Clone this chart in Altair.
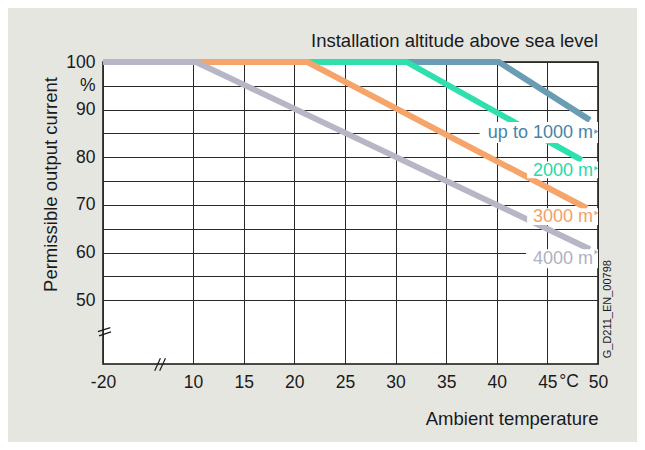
import altair as alt
import pandas as pd

# ---- data ----
series = ["up to 1000 m", "2000 m", "3000 m", "4000 m"]
line_colors = ["#6a9cb4", "#2ee0ad", "#f5a46a", "#b6b6c6"]
text_colors = ["#4784a6", "#2ad8a8", "#f2a066", "#b0b0c0"]

temps = {
    "up to 1000 m": [-20, 40.2, 49.2],
    "2000 m": [-20, 31.1, 48.4],
    "3000 m": [-20, 21.3, 48.9],
    "4000 m": [-20, 10.3, 49.2],
}
currents = {
    "up to 1000 m": [100, 100, 87.8],
    "2000 m": [100, 100, 79.4],
    "3000 m": [100, 100, 69.3],
    "4000 m": [100, 100, 60.7],
}

# label positions (temperature, current) and white label boxes
label_x = [49.5, 49.5, 49.5, 49.5]
label_y = [85.0, 77.2, 67.4, 58.6]
box_x = [38.3, 43.0, 43.0, 42.9]
box_x2 = [50, 50, 50, 50]
box_y = [87.4, 79.1, 69.3, 60.7]
box_y2 = [83.0, 75.6, 65.8, 56.7]
arrow_x = [49.85, 49.85, 49.85, 49.85]
arrow_y = [85.4, 77.7, 68.3, 60.1]

x_tick_values = [-20, 10, 15, 20, 25, 30, 35, 40, 45, 50]
y_tick_values = [50, 55, 60, 65, 70, 75, 80, 85, 90, 95, 100]

# axis-break marks (scale position units), each a short segment
brk_x = [0.61, 0.715, 6.22, 6.71]
brk_x2 = [1.83, 1.90, 6.78, 7.28]
brk_y = [43.4, 42.5, 35.2, 35.2]
brk_y2 = [44.25, 43.34, 37.8, 37.8]

# broken axis: -20..10 compressed
X_BREAK_POS = 1.11


def pos(t):
    return t if t >= 10 else X_BREAK_POS + (t + 20) * (10 - X_BREAK_POS) / 30


FONT = "Liberation Sans"
INK = "#1a1a1a"
x_scale = alt.Scale(domain=[X_BREAK_POS, 50], nice=False, zero=False)
y_scale = alt.Scale(domain=[36.6, 100], nice=False, zero=False)

rows = []
for s in series:
    for t, v in zip(temps[s], currents[s]):
        rows.append({"series": s, "x": pos(t), "y": v})
lines_df = pd.DataFrame(rows)

lab_df = pd.DataFrame({
    "series": series, "lx": label_x, "ly": label_y,
    "bx": box_x, "bx2": box_x2, "by": box_y, "by2": box_y2,
    "ax": arrow_x, "ay": arrow_y, "tc": text_colors, "lc": line_colors,
})

x_axis = alt.Axis(
    values=[pos(t) for t in x_tick_values],
    labelExpr="datum.value < 5 ? '-20' : format(datum.value, 'd')",
    grid=True, gridColor="#2a2a2a", gridWidth=1, ticks=False, domain=False,
    labelFont=FONT, labelFontSize=17.5, labelColor=INK, labelPadding=9,
    labelFlush=False, labelOverlap=False,
    title="Ambient temperature", titleFont=FONT, titleFontSize=18.5,
    titleFontWeight="normal", titleColor=INK, titleAnchor="end",
    titlePadding=19,
)
y_axis = alt.Axis(
    values=y_tick_values,
    labelExpr="datum.value == 95 ? '%' : (datum.value % 10 == 0 ? format(datum.value, 'd') : '')",
    grid=True, gridColor="#2a2a2a", gridWidth=1, ticks=False, domain=False,
    labelFont=FONT, labelFontSize=17.5, labelColor=INK, labelPadding=8,
    labelFlush=False, labelOverlap=False,
    title="Permissible output current", titleFont=FONT, titleFontSize=18.5,
    titleFontWeight="normal", titleColor=INK, titleAngle=270,
    titleX=-53, titleY=122, titleAlign="center", titleBaseline="middle",
)


def X(field):
    return alt.X(field, type="quantitative", scale=x_scale, axis=x_axis)


def Y(field):
    return alt.Y(field, type="quantitative", scale=y_scale, axis=y_axis)


layers = []
# draw order: 1000 m at the bottom, 4000 m on top
for s, c in zip(series, line_colors):
    ch = alt.Chart(lines_df).transform_filter(alt.datum.series == s).mark_line(
        color=c, strokeWidth=6, strokeCap="butt", strokeJoin="miter", clip=False
    ).encode(x=X("x"), y=Y("y"), order=alt.Order("x:Q"))
    layers.append(ch)

boxes = alt.Chart(lab_df).mark_rect(color="white").encode(
    x=X("bx"), x2="bx2", y=Y("by"), y2="by2",
)
texts = alt.Chart(lab_df).mark_text(
    align="right", baseline="middle", font=FONT, fontSize=18
).encode(
    x=X("lx"), y=Y("ly"),
    text="series:N", color=alt.Color("tc:N", scale=None),
)
arrows = alt.Chart(lab_df).mark_point(
    shape="triangle-right", filled=True, size=22, opacity=1, clip=True
).encode(
    x=X("ax"), y=Y("ay"), color=alt.Color("lc:N", scale=None),
)

brk_df = pd.DataFrame({"x": brk_x, "x2": brk_x2, "y": brk_y, "y2": brk_y2})
breaks = alt.Chart(brk_df).mark_rule(color=INK, strokeWidth=1.2, clip=False).encode(
    x=X("x"), x2="x2", y=Y("y"), y2="y2",
)

deco_df = pd.DataFrame({
    "x": [47.15, 51.0],
    "y": [32.9, 48.1],
    "t": ["°C", "G_D211_EN_00798"],
    "a": [0, 270],
    "fs": [17.5, 11],
})
deco = alt.Chart(deco_df).mark_text(
    font=FONT, color=INK, baseline="middle", align="center"
).encode(
    x=X("x"), y=Y("y"),
    text="t:N", angle=alt.Angle("a:Q", scale=None),
    size=alt.Size("fs:Q", scale=None),
)

chart = alt.layer(*layers, boxes, texts, arrows, breaks, deco).properties(
    width=495, height=302,
    autosize=alt.AutoSizeParams(type="none"),
    padding={"left": 95, "top": 54, "right": 39, "bottom": 78},
    background="#e6e6e1",
    title=alt.TitleParams(
        "Installation altitude above sea level", anchor="end", frame="group",
        font=FONT, fontSize=18.5, fontWeight="normal", color=INK, offset=0,
    ),
).configure_view(stroke="#111", strokeWidth=1.5, fill="white")

chart.save("out.html", embed_options={"renderer": "svg", "actions": False})
